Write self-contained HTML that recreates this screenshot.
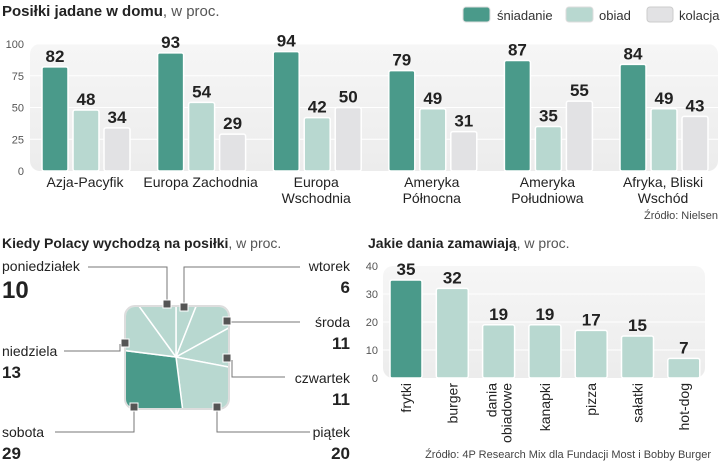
<!DOCTYPE html>
<html><head><meta charset="utf-8"><style>
body{margin:0;background:#fff;}
svg{display:block;font-family:"Liberation Sans",sans-serif;}
.num{font-family:"Liberation Sans Narrow","Liberation Sans",sans-serif;font-weight:bold;fill:#222;}
.tick{font-size:11px;fill:#555;}
.lbl{font-size:14px;fill:#222;}
</style></head><body>
<svg id="c" width="720" height="463" viewBox="0 0 720 463">
<defs>
<linearGradient id="pg" x1="0" y1="0" x2="0" y2="1"><stop offset="0" stop-color="#f6f6f6"/><stop offset="1" stop-color="#ececec"/></linearGradient>
<clipPath id="sq"><rect x="126" y="307" width="102" height="101" rx="9"/></clipPath>
</defs>
<text x="2" y="16" font-size="15" fill="#222"><tspan font-weight="bold">Posiłki jadane w domu</tspan><tspan fill="#555">, w proc.</tspan></text>
<g>
<rect x="463" y="7" width="27" height="15" rx="3" fill="#4a9a8a" stroke="#ddd"/>
<text x="497" y="20" font-size="13" fill="#333">śniadanie</text>
<rect x="566" y="7" width="27" height="15" rx="3" fill="#b8d8d0" stroke="#ddd"/>
<text x="599" y="20" font-size="13" fill="#333">obiad</text>
<rect x="647" y="7" width="26" height="15" rx="3" fill="#e2e2e4" stroke="#ccc"/>
<text x="679" y="20" font-size="13" fill="#333">kolacja</text>
</g>
<rect x="30" y="44" width="688" height="127" rx="10" fill="url(#pg)"/>
<g id="topg"></g>
<text x="718" y="219" font-size="11" fill="#444" text-anchor="end">Źródło: Nielsen</text>

<text x="2" y="248" font-size="14" fill="#222"><tspan font-weight="bold">Kiedy Polacy wychodzą na posiłki</tspan><tspan fill="#555">, w proc.</tspan></text>
<g id="sqg"></g>
<g id="days"></g>

<text x="368" y="248" font-size="14" fill="#222"><tspan font-weight="bold">Jakie dania zamawiają</tspan><tspan fill="#555">, w proc.</tspan></text>
<rect x="383" y="266" width="322" height="112" rx="10" fill="url(#pg)"/>
<g id="dish"></g>
<text x="711" y="458" font-size="11" fill="#444" text-anchor="end">Źródło: 4P Research Mix dla Fundacji Most i Bobby Burger</text>
</svg>
<script>
const regions=[["Azja-Pacyfik"],["Europa Zachodnia"],["Europa","Wschodnia"],["Ameryka","Północna"],["Ameryka","Południowa"],["Afryka, Bliski","Wschód"]];
const sniadanie=[82,93,94,79,87,84];
const obiad=[48,54,42,49,35,49];
const kolacja=[34,29,50,31,55,43];
const topTicks=[0,25,50,75,100];
const days=["poniedziałek","wtorek","środa","czwartek","piątek","sobota","niedziela"];
const dayVals=[10,6,11,11,20,29,13];
const dishes=[["frytki"],["burger"],["dania","obiadowe"],["kanapki"],["pizza"],["sałatki"],["hot-dog"]];
const dishVals=[35,32,19,19,17,15,7];
const dishTicks=[0,10,20,30,40];

const NS="http://www.w3.org/2000/svg";
function mk(p,t,a,txt){const e=document.createElementNS(NS,t);for(const k in a)e.setAttribute(k,a[k]);if(txt!=null)e.textContent=txt;p.appendChild(e);return e;}
const topG=document.getElementById('topg');
const yT=v=>171-v*1.27;
const gx=i=>85+i*115.6;
topTicks.forEach(t=>{
 if(t>0){const l=mk(topG,'line',{x1:30,x2:718,y1:yT(t),y2:yT(t),stroke:'#fff','stroke-width':1});
 
 }
 const tx=mk(topG,'text',{x:24,y:yT(t)+4,'text-anchor':'end',class:'tick'},t);
 
 
});
const series=[[sniadanie,'#4a9a8a','sniadanie'],[obiad,'#b8d8d0','obiad'],[kolacja,'#e2e2e4','kolacja']];
regions.forEach((r,i)=>{
 series.forEach((s,j)=>{
  const v=s[0][i];const x=gx(i)-43+j*31;
  const b=mk(topG,'rect',{x:x,y:yT(v),width:26,height:v*1.27,rx:2,fill:s[1],stroke:'#fff','stroke-width':1.5});
  
  
  const t=mk(topG,'text',{x:x+13,y:yT(v)-5,'text-anchor':'middle',class:'num','font-size':17},v);
  
  
 });
 r.forEach((ln,k)=>{const t=mk(topG,'text',{x:gx(i),y:187+k*16,'text-anchor':'middle',class:'lbl'},ln);
  
  });
});
const sq=document.getElementById('sqg');
const cx=176,cy=357;
const bg=mk(sq,'rect',{x:125,y:306,width:104,height:103,rx:10,fill:'#fff',stroke:'#ddd','stroke-width':2});


const cg=mk(sq,'g',{'clip-path':'url(#sq)'});
const order=[1,2,3,4,5,6,0];
let acc=0;const tot=dayVals.reduce((a,b)=>a+b,0);
order.forEach(d=>{
 const a0=acc/tot*2*Math.PI;acc+=dayVals[d];const a1=acc/tot*2*Math.PI;
 const R=120;
 const p=`M${cx},${cy}L${cx+R*Math.sin(a0)},${cy-R*Math.cos(a0)}A${R},${R} 0 ${a1-a0>Math.PI?1:0} 1 ${cx+R*Math.sin(a1)},${cy-R*Math.cos(a1)}Z`;
 const w=mk(cg,'path',{d:p,fill:d===5?'#4a9a8a':'#b8d8d0',stroke:'#fff','stroke-width':1.5});
 
 
});
const dl=document.getElementById('days');
const lab=[
 {d:0,x:2,y:271,a:'start',line:'M88,267H167V304',m:[167,304]},
 {d:1,x:350,y:271,a:'end',line:'M300,267H184V304',m:[184,307]},
 {d:2,x:350,y:327,a:'end',line:'M300,322H230V319',m:[227,321]},
 {d:3,x:350,y:383,a:'end',line:'M285,377H232V360',m:[227,358]},
 {d:4,x:350,y:437,a:'end',line:'M310,432H217V408',m:[217,407]},
 {d:5,x:2,y:437,a:'start',line:'M55,432H134V408',m:[134,407]},
 {d:6,x:2,y:356,a:'start',line:'M64,351H120V344',m:[125,343]}
];
lab.forEach(o=>{
 const l=mk(dl,'path',{d:o.line,fill:'none',stroke:'#777','stroke-width':1});
 
 
 const m=mk(dl,'rect',{x:o.m[0]-4,y:o.m[1]-4,width:8,height:8,fill:'#555',stroke:'#fff','stroke-width':1});
 
 
 const t=mk(dl,'text',{x:o.x,y:o.y,'text-anchor':o.a,'font-size':14,fill:'#222'},days[o.d]);
 
 
 const big=o.d===0;
 const v=mk(dl,'text',{x:o.x,y:o.y+(big?27:22),'text-anchor':o.a,class:'num','font-size':big?24:17},dayVals[o.d]);
 
 
});
const dg=document.getElementById('dish');
const yD=v=>378-v*2.8;
const dx=i=>390+i*46.3;
dishTicks.forEach(t=>{
 if(t>0&&t<40){const l=mk(dg,'line',{x1:383,x2:705,y1:yD(t),y2:yD(t),stroke:'#fff'});
 
 }
 const tx=mk(dg,'text',{x:378,y:yD(t)+4,'text-anchor':'end',class:'tick'},t);
 
 
});
dishes.forEach((n,i)=>{
 const v=dishVals[i];
 const b=mk(dg,'rect',{x:dx(i),y:yD(v),width:32,height:v*2.8,rx:2,fill:i===0?'#4a9a8a':'#b8d8d0',stroke:'#fff','stroke-width':1.5});
 
 
 const t=mk(dg,'text',{x:dx(i)+16,y:yD(v)-5,'text-anchor':'middle',class:'num','font-size':17},v);
 
 
 n.forEach((ln,k)=>{
  const lx=dx(i)+16+(n.length>1?(k===0?-7:8):0)+5;
  const tt=mk(dg,'text',{x:lx,y:383,'text-anchor':'end','font-size':14,fill:'#222',transform:`rotate(-90 ${lx} 383)`},ln);
  
  
 });
});
</script>
</body></html>
